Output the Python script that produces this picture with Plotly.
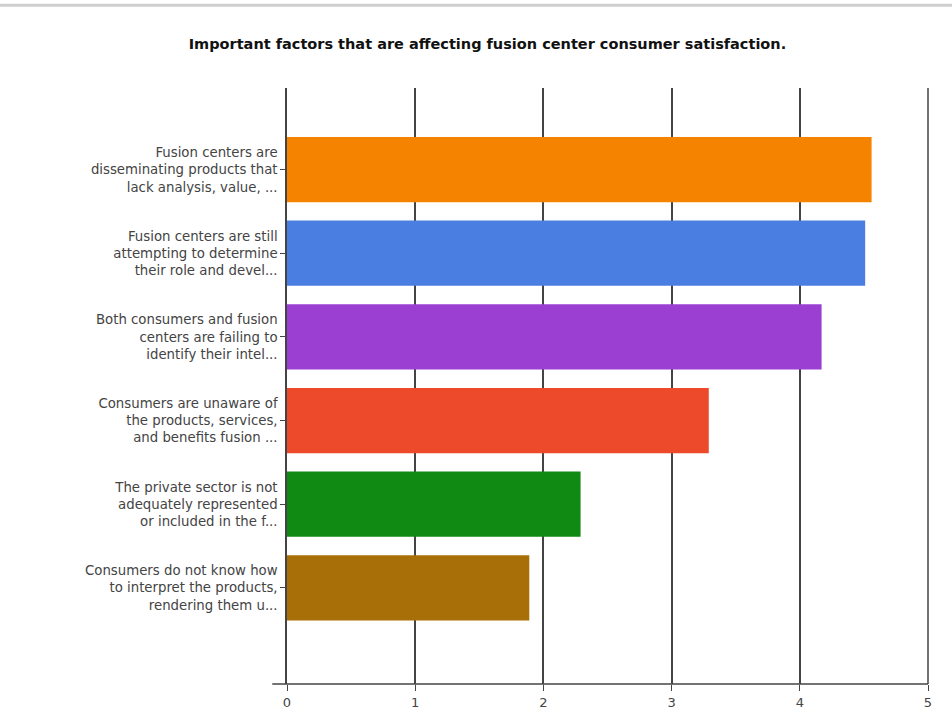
import plotly.graph_objects as go

categories = [
    "Consumers do not know how<br>to interpret the products,<br>rendering them u...",
    "The private sector is not<br>adequately represented<br>or included in the f...",
    "Consumers are unaware of<br>the products, services,<br>and benefits fusion ...",
    "Both consumers and fusion<br>centers are failing to<br>identify their intel...",
    "Fusion centers are still<br>attempting to determine<br>their role and devel...",
    "Fusion centers are<br>disseminating products that<br>lack analysis, value, ...",
]
values = [1.89, 2.29, 3.29, 4.17, 4.51, 4.56]
colors = ["#a86f08", "#118a14", "#ec4a2a", "#9a3fd2", "#4a7ee0", "#f58300"]
tick_vals = [0, 1, 2, 3, 4, 5]

fig = go.Figure()
fig.add_trace(go.Bar(
    x=values, y=categories, orientation="h",
    marker=dict(color=colors, line=dict(width=0)),
    width=0.78, showlegend=False,
))

fig.update_layout(
    width=952, height=725,
    margin=dict(l=287, r=24, t=88, b=41),
    paper_bgcolor="white", plot_bgcolor="white",
    font=dict(family="DejaVu Sans, Verdana, sans-serif", size=12, color="#444444"),
    title=dict(text="<b>Important factors that are affecting fusion center consumer satisfaction.</b>",
               x=0.512, xref="container", y=0.94, yref="container",
               xanchor="center", yanchor="middle",
               font=dict(family="DejaVu Sans, Verdana, sans-serif", size=14.5, color="#111111")),
    xaxis=dict(range=[0, 5], tickvals=tick_vals, showgrid=True, gridcolor="#444444", gridwidth=1.5,
               zeroline=False, showline=False, ticks="outside", ticklen=6, tickcolor="#444444",
               tickfont=dict(size=13, color="#444444")),
    yaxis=dict(range=[-1.15, 5.975], showgrid=False, zeroline=False,
               showline=True, linecolor="#444444", linewidth=1.5,
               ticks="outside", ticklen=5, tickcolor="#444444",
               tickfont=dict(size=13.3, color="#444444")),
    shapes=[
        dict(type="line", xref="paper", yref="paper", x0=-0.023, x1=1.0, y0=0, y1=0,
             line=dict(color="#444444", width=1.5)),
        dict(type="line", xref="paper", yref="paper", x0=1.0, x1=1.0, y0=0, y1=1,
             line=dict(color="#444444", width=1.5)),
        dict(type="line", xref="paper", yref="paper", x0=-0.448, x1=1.04, y0=1.139, y1=1.139,
             line=dict(color="#cfcfcf", width=3)),
    ],
)

fig.write_html("out.html")
